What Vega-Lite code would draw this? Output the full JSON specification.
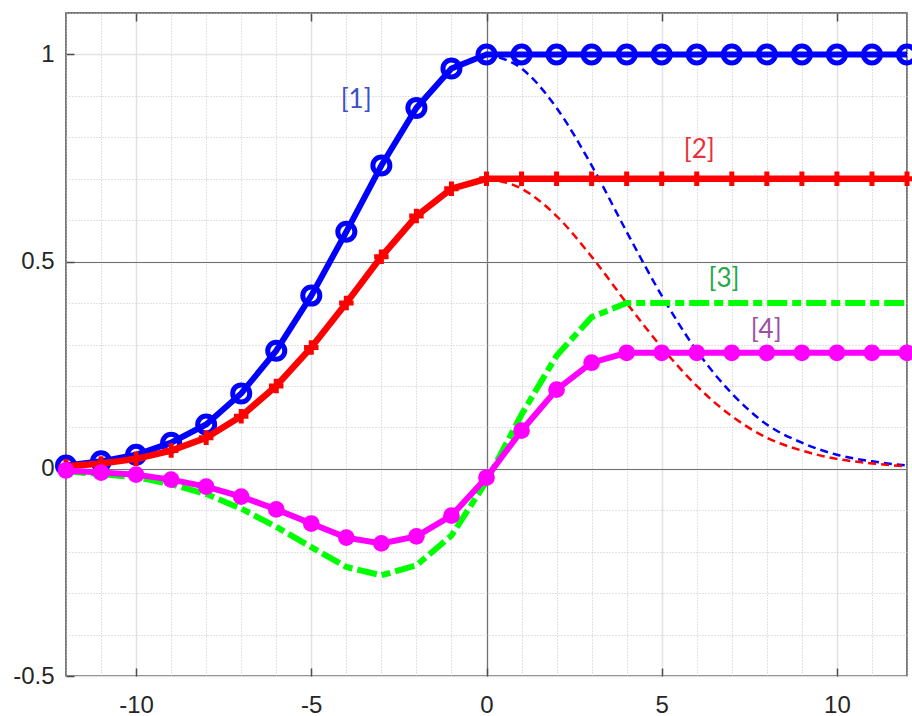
{
  "$schema": "https://vega.github.io/schema/vega-lite/v6.json",
  "width": 841,
  "height": 663,
  "autosize": {"type": "none"},
  "padding": {"left": 66, "top": 13, "right": 5, "bottom": 40},
  "background": "white",
  "config": {
    "view": {"stroke": "#4d4d4d", "strokeWidth": 1.5},
    "axis": {"labelFont": "Liberation Sans", "labelFontSize": 24, "labelColor": "#262626", "title": null, "domain": false}
  },
  "datasets": {
    "curves": [
      {"x": -12, "b": 0.008, "r": 0.006, "g": -0.006, "m": -0.004, "bd": null, "rd": null},
      {"x": -11, "b": 0.018, "r": 0.013, "g": -0.013, "m": -0.009, "bd": null, "rd": null},
      {"x": -10, "b": 0.034, "r": 0.024, "g": -0.02, "m": -0.014, "bd": null, "rd": null},
      {"x": -9, "b": 0.063, "r": 0.044, "g": -0.037, "m": -0.026, "bd": null, "rd": null},
      {"x": -8, "b": 0.107, "r": 0.075, "g": -0.061, "m": -0.043, "bd": null, "rd": null},
      {"x": -7, "b": 0.182, "r": 0.127, "g": -0.096, "m": -0.067, "bd": null, "rd": null},
      {"x": -6, "b": 0.285, "r": 0.2, "g": -0.14, "m": -0.098, "bd": null, "rd": null},
      {"x": -5, "b": 0.418, "r": 0.293, "g": -0.189, "m": -0.132, "bd": null, "rd": null},
      {"x": -4, "b": 0.572, "r": 0.4, "g": -0.237, "m": -0.166, "bd": null, "rd": null},
      {"x": -3, "b": 0.732, "r": 0.512, "g": -0.257, "m": -0.18, "bd": null, "rd": null},
      {"x": -2, "b": 0.871, "r": 0.61, "g": -0.233, "m": -0.163, "bd": null, "rd": null},
      {"x": -1, "b": 0.966, "r": 0.676, "g": -0.161, "m": -0.113, "bd": null, "rd": null},
      {"x": 0, "b": 1, "r": 0.7, "g": -0.03, "m": -0.021, "bd": 1, "rd": 0.7},
      {"x": 1, "b": 1, "r": 0.7, "g": 0.131, "m": 0.092, "bd": 0.966, "rd": 0.676},
      {"x": 2, "b": 1, "r": 0.7, "g": 0.273, "m": 0.191, "bd": 0.871, "rd": 0.61},
      {"x": 3, "b": 1, "r": 0.7, "g": 0.366, "m": 0.256, "bd": 0.732, "rd": 0.512},
      {"x": 4, "b": 1, "r": 0.7, "g": 0.4, "m": 0.28, "bd": 0.572, "rd": 0.4},
      {"x": 5, "b": 1, "r": 0.7, "g": 0.4, "m": 0.28, "bd": 0.418, "rd": 0.293},
      {"x": 6, "b": 1, "r": 0.7, "g": 0.4, "m": 0.28, "bd": 0.285, "rd": 0.2},
      {"x": 7, "b": 1, "r": 0.7, "g": 0.4, "m": 0.28, "bd": 0.182, "rd": 0.127},
      {"x": 8, "b": 1, "r": 0.7, "g": 0.4, "m": 0.28, "bd": 0.107, "rd": 0.075},
      {"x": 9, "b": 1, "r": 0.7, "g": 0.4, "m": 0.28, "bd": 0.063, "rd": 0.044},
      {"x": 10, "b": 1, "r": 0.7, "g": 0.4, "m": 0.28, "bd": 0.034, "rd": 0.024},
      {"x": 11, "b": 1, "r": 0.7, "g": 0.4, "m": 0.28, "bd": 0.018, "rd": 0.013},
      {"x": 12, "b": 1, "r": 0.7, "g": 0.4, "m": 0.28, "bd": 0.008, "rd": 0.006}
    ],
    "labels": [
      {"x": -3.72, "y": 0.891, "label": "[1]"},
      {"x": 6.07, "y": 0.77, "label": "[2]"},
      {"x": 6.78, "y": 0.457, "label": "[3]"},
      {"x": 7.98, "y": 0.336, "label": "[4]"}
    ]
  },
  "data": {"name": "curves"},
  "resolve": {"axis": {"x": "independent", "y": "independent"}},
  "layer": [
    {
      "mark": {"type": "line", "color": "#0000ff", "strokeWidth": 2.5, "strokeDash": [8, 5], "interpolate": "monotone"},
      "encoding": {
        "x": {"field": "x", "type": "quantitative", "scale": {"domain": [-12, 12], "nice": false, "zero": false},
          "axis": {"orient": "top", "values": [-12,-11,-10,-9,-8,-7,-6,-5,-4,-3,-2,-1,0,1,2,3,4,5,6,7,8,9,10,11,12], "grid": true, "gridDash": [1, 2], "gridColor": "#c4c4c4", "gridWidth": 1, "ticks": false, "labels": false}},
        "y": {"field": "bd", "type": "quantitative", "scale": {"domain": [-0.5, 1.1], "nice": false, "zero": false},
          "axis": {"orient": "right", "values": [-0.4,-0.3,-0.2,-0.1,0.1,0.2,0.3,0.4,0.6,0.7,0.8,0.9,1.1], "grid": true, "gridDash": [1, 2], "gridColor": "#c4c4c4", "gridWidth": 1, "ticks": false, "labels": false}}
      }
    },
    {
      "mark": {"type": "line", "color": "#ff0000", "strokeWidth": 2.5, "strokeDash": [8, 5], "interpolate": "monotone"},
      "encoding": {
        "x": {"field": "x", "type": "quantitative",
          "axis": {"orient": "bottom", "values": [-10, -5, 0, 5, 10], "grid": true, "gridColor": "#e2e2e2", "gridWidth": 1.5, "ticks": false, "labels": true, "labelPadding": 17, "labelFontSize": 24, "labelExpr": "'' + datum.value"}},
        "y": {"field": "rd", "type": "quantitative",
          "axis": {"orient": "left", "values": [-0.5, 0, 0.5, 1], "grid": true, "gridColor": "#e2e2e2", "gridWidth": 1.5, "ticks": false, "labels": true, "labelPadding": 12, "labelFontSize": 24, "labelExpr": "'' + datum.value"}}
      }
    },
    {
      "mark": {"type": "line", "color": "#0000ff", "strokeWidth": 6},
      "encoding": {
        "x": {"field": "x", "type": "quantitative",
          "axis": {"orient": "bottom", "values": [0], "grid": true, "gridColor": "#707070", "gridWidth": 1.2, "ticks": false, "labels": false}},
        "y": {"field": "b", "type": "quantitative",
          "axis": {"orient": "left", "values": [0, 0.5], "grid": true, "gridColor": "#707070", "gridWidth": 1.2, "ticks": false, "labels": false}}
      }
    },
    {
      "mark": {"type": "point", "shape": "circle", "filled": false, "color": "#0000ff", "strokeWidth": 5, "size": 290, "opacity": 1},
      "encoding": {
        "x": {"field": "x", "type": "quantitative",
          "axis": {"orient": "bottom", "values": [-10, -5, 0, 5, 10], "grid": false, "ticks": true, "tickSize": -8, "tickColor": "#4d4d4d", "tickWidth": 1.5, "labels": false}},
        "y": {"field": "b", "type": "quantitative",
          "axis": {"orient": "left", "values": [-0.5, 0, 0.5, 1], "grid": false, "ticks": true, "tickSize": -8, "tickColor": "#4d4d4d", "tickWidth": 1.5, "labels": false}}
      }
    },
    {
      "mark": {"type": "line", "color": "#ff0000", "strokeWidth": 6.5},
      "encoding": {
        "x": {"field": "x", "type": "quantitative",
          "axis": {"orient": "top", "values": [-10, -5, 0, 5, 10], "grid": false, "ticks": true, "tickSize": -8, "tickColor": "#4d4d4d", "tickWidth": 1.5, "labels": false}},
        "y": {"field": "r", "type": "quantitative", "axis": null}
      }
    },
    {
      "mark": {"type": "point", "shape": "M-1,0H1M0,-1V1", "filled": false, "color": "#ff0000", "strokeWidth": 5, "size": 210, "opacity": 1},
      "encoding": {
        "x": {"field": "x", "type": "quantitative", "axis": null},
        "y": {"field": "r", "type": "quantitative", "axis": null}
      }
    },
    {
      "mark": {"type": "line", "color": "#00ff00", "strokeWidth": 6, "strokeDash": [20, 5, 9, 5]},
      "encoding": {
        "x": {"field": "x", "type": "quantitative", "axis": null},
        "y": {"field": "g", "type": "quantitative", "axis": null}
      }
    },
    {
      "mark": {"type": "line", "color": "#ff00ff", "strokeWidth": 6},
      "encoding": {
        "x": {"field": "x", "type": "quantitative", "axis": null},
        "y": {"field": "m", "type": "quantitative", "axis": null}
      }
    },
    {
      "mark": {"type": "point", "shape": "circle", "filled": true, "color": "#ff00ff", "size": 280, "opacity": 1},
      "encoding": {
        "x": {"field": "x", "type": "quantitative", "axis": null},
        "y": {"field": "m", "type": "quantitative", "axis": null}
      }
    },
    {
      "data": {"name": "labels"},
      "mark": {"type": "text", "font": "Lato", "fontSize": 26, "align": "center", "baseline": "middle"},
      "encoding": {
        "x": {"field": "x", "type": "quantitative", "axis": null},
        "y": {"field": "y", "type": "quantitative", "axis": null},
        "text": {"field": "label"},
        "color": {"field": "label", "type": "nominal", "legend": null,
          "scale": {"domain": ["[1]", "[2]", "[3]", "[4]"], "range": ["#3a4fc8", "#e8303a", "#22a84a", "#9e50a0"]}}
      }
    }
  ]
}
